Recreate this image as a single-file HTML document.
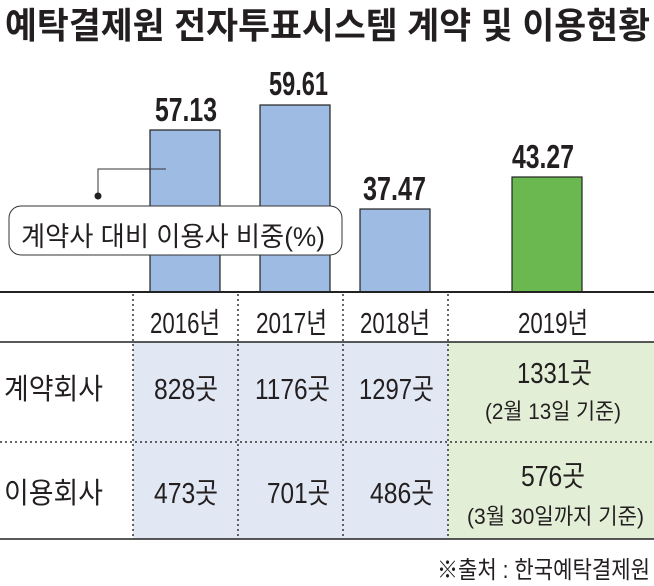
<!DOCTYPE html>
<html><head><meta charset="utf-8"><style>
html,body{margin:0;padding:0;background:#fff;}
svg{display:block;}
text{font-family:"Liberation Sans","Noto Sans CJK KR",sans-serif;fill:#231f20;}
.b{font-weight:bold;}
</style></head><body>
<svg width="654" height="586" viewBox="0 0 654 586" xmlns="http://www.w3.org/2000/svg">
<rect x="0" y="0" width="654" height="586" fill="#fff"/>
<text class="b" x="5" y="38" font-size="36" textLength="645" lengthAdjust="spacingAndGlyphs" font-family="Noto Sans CJK KR">예탁결제원 전자투표시스템 계약 및 이용현황</text>
<rect x="133" y="342" width="315" height="197" fill="#e1e8f4"/>
<rect x="448" y="342" width="206" height="197" fill="#e2eed6"/>
<rect x="150" y="130" width="70" height="162" fill="#9dbbe3" stroke="#222" stroke-width="1.2"/>
<rect x="260" y="105" width="70" height="187" fill="#9dbbe3" stroke="#222" stroke-width="1.2"/>
<rect x="360" y="209" width="70" height="83" fill="#9dbbe3" stroke="#222" stroke-width="1.2"/>
<rect x="512" y="177" width="70" height="115" fill="#6ab84f" stroke="#222" stroke-width="1.2"/>
<text class="b" x="155" y="121" font-size="33" textLength="62" lengthAdjust="spacingAndGlyphs">57.13</text>
<text class="b" x="269" y="95" font-size="33" textLength="59" lengthAdjust="spacingAndGlyphs">59.61</text>
<text class="b" x="363" y="200" font-size="33" textLength="63" lengthAdjust="spacingAndGlyphs">37.47</text>
<text class="b" x="512" y="168" font-size="33" textLength="62" lengthAdjust="spacingAndGlyphs">43.27</text>
<polyline points="98,196 98,169 166,169" fill="none" stroke="#333" stroke-width="1"/>
<circle cx="98" cy="196" r="3.5" fill="#222"/>
<rect x="9" y="206" width="333" height="49" rx="12" fill="#fff" stroke="#333" stroke-width="1"/>
<text x="21" y="246" font-size="27" textLength="304" lengthAdjust="spacingAndGlyphs">계약사 대비 이용사 비중(%)</text>
<line x1="0" y1="292" x2="654" y2="292" stroke="#222" stroke-width="2"/>
<line x1="0" y1="342" x2="654" y2="342" stroke="#222" stroke-width="1.5"/>
<line x1="0" y1="539" x2="654" y2="539" stroke="#222" stroke-width="1.5"/>
<line x1="0" y1="442" x2="654" y2="442" stroke="#333" stroke-width="1.5" stroke-dasharray="2,3"/>
<g stroke="#333" stroke-width="1.5" stroke-dasharray="2,3">
<line x1="133" y1="294" x2="133" y2="539"/>
<line x1="238" y1="294" x2="238" y2="539"/>
<line x1="343" y1="294" x2="343" y2="539"/>
<line x1="448" y1="294" x2="448" y2="539"/>
</g>
<g font-size="29">
<text x="150" y="333" textLength="70" lengthAdjust="spacingAndGlyphs">2016년</text>
<text x="256" y="333" textLength="71" lengthAdjust="spacingAndGlyphs">2017년</text>
<text x="360" y="333" textLength="70" lengthAdjust="spacingAndGlyphs">2018년</text>
<text x="518" y="333" textLength="70" lengthAdjust="spacingAndGlyphs">2019년</text>
<text x="4" y="399" textLength="99" lengthAdjust="spacingAndGlyphs">계약회사</text>
<text x="4" y="503" textLength="99" lengthAdjust="spacingAndGlyphs">이용회사</text>
<text x="154" y="399" textLength="64" lengthAdjust="spacingAndGlyphs">828곳</text>
<text x="255" y="399" textLength="75" lengthAdjust="spacingAndGlyphs">1176곳</text>
<text x="359" y="399" textLength="75" lengthAdjust="spacingAndGlyphs">1297곳</text>
<text x="154" y="503" textLength="64" lengthAdjust="spacingAndGlyphs">473곳</text>
<text x="267" y="503" textLength="63" lengthAdjust="spacingAndGlyphs">701곳</text>
<text x="370" y="503" textLength="64" lengthAdjust="spacingAndGlyphs">486곳</text>
<text x="517" y="383" textLength="75" lengthAdjust="spacingAndGlyphs">1331곳</text>
<text x="521" y="486" textLength="64" lengthAdjust="spacingAndGlyphs">576곳</text>
</g>
<text x="485" y="419" font-size="22" textLength="136" lengthAdjust="spacingAndGlyphs">(2월 13일 기준)</text>
<text x="467" y="524" font-size="22" textLength="177" lengthAdjust="spacingAndGlyphs">(3월 30일까지 기준)</text>
<text x="437" y="578" font-size="24" textLength="213" lengthAdjust="spacingAndGlyphs">※출처 : 한국예탁결제원</text>
</svg>
</body></html>
